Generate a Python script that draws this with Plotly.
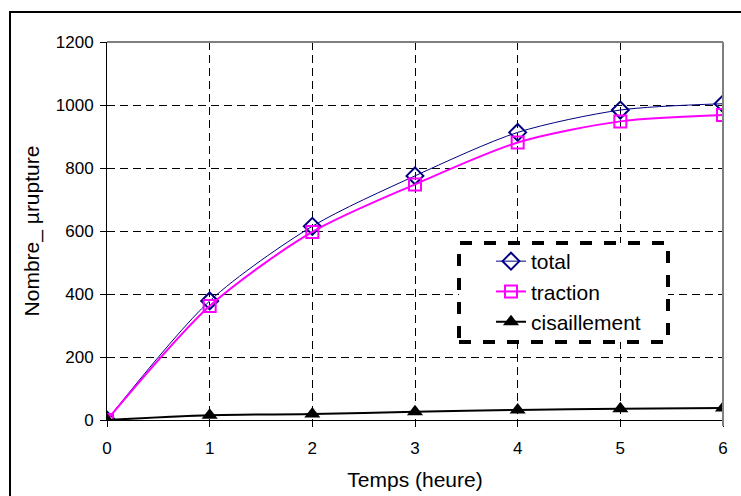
import plotly.graph_objects as go

temps = [0, 1, 2, 3, 4, 5, 6]
total = [0, 378, 615, 775, 913, 984, 1004]
traction = [0, 362, 597, 748, 881, 948, 968]
cisaillement = [0, 15, 19, 26, 32, 36, 38]

W, H = 741, 496
L, R, T, B = 107, 18, 42, 76
pw, ph = W - L - R, H - T - B

def px(x):
    return (x - L) / pw

def py(y):
    return (H - B - y) / ph

font = "Liberation Sans, Arial, sans-serif"

fig = go.Figure()
fig.add_trace(go.Scatter(x=temps, y=total, name="total", mode="lines+markers",
                         line=dict(color="#000080", width=1, shape="spline", smoothing=0.8),
                         marker=dict(symbol="diamond-open", size=13, color="#000080", line=dict(width=2))))
fig.add_trace(go.Scatter(x=temps, y=traction, name="traction", mode="lines+markers",
                         line=dict(color="#FF00FF", width=2, shape="spline", smoothing=0.8),
                         marker=dict(symbol="square-open", size=12, color="#FF00FF", line=dict(width=2))))
fig.add_trace(go.Scatter(x=temps, y=cisaillement, name="cisaillement", mode="lines+markers",
                         line=dict(color="black", width=2, shape="spline", smoothing=0.8),
                         marker=dict(symbol="triangle-up", size=14, color="black")))

fig.update_layout(
    width=W, height=H,
    margin=dict(l=L, r=R, t=T, b=B, autoexpand=False),
    paper_bgcolor="white", plot_bgcolor="white",
    font=dict(family=font, size=17, color="black"),
    showlegend=True,
    legend=dict(x=px(491), y=py(241), xanchor="left", yanchor="top",
                bgcolor="rgba(0,0,0,0)", borderwidth=0,
                font=dict(family=font, size=21), tracegroupgap=0, itemwidth=30),
    xaxis=dict(range=[0, 6], tickvals=temps, showgrid=True, gridcolor="black",
               griddash="8px,5px", gridwidth=1, zeroline=False,
               showline=True, linecolor="black", linewidth=1,
               ticks="outside", ticklen=6, tickcolor="black",
               tickfont=dict(size=17), ticklabelstandoff=7, automargin=False,
               title=dict(text="Temps (heure)", font=dict(size=21), standoff=14)),
    yaxis=dict(range=[0, 1200], tickvals=[0, 200, 400, 600, 800, 1000, 1200], showgrid=True, gridcolor="black",
               griddash="8px,5px", gridwidth=1, zeroline=False,
               showline=True, linecolor="black", linewidth=1,
               ticks="outside", ticklen=6, tickcolor="black",
               tickfont=dict(size=17), ticklabelstandoff=3, automargin=False,
               title=dict(text="Nombre_ µrupture", font=dict(size=21), standoff=10)),
    shapes=[
        dict(type="line", xref="paper", yref="paper", x0=0, x1=1, y0=1, y1=1,
             line=dict(color="#808080", width=2), layer="above"),
        dict(type="line", xref="paper", yref="paper", x0=1, x1=1, y0=py(426), y1=1,
             line=dict(color="#808080", width=2), layer="above"),
        dict(type="rect", xref="paper", yref="paper", x0=px(10), x1=px(760), y0=py(510), y1=py(12),
             line=dict(color="black", width=2), fillcolor="rgba(0,0,0,0)", layer="below"),
        dict(type="rect", xref="paper", yref="paper", x0=px(459), x1=px(668), y0=py(342), y1=py(243),
             line=dict(color="black", width=4, dash="dash"), fillcolor="white", layer="above"),
    ],
)
fig.write_html("out.html", config={"displayModeBar": False},
               post_script="document.body.style.margin='0';")
